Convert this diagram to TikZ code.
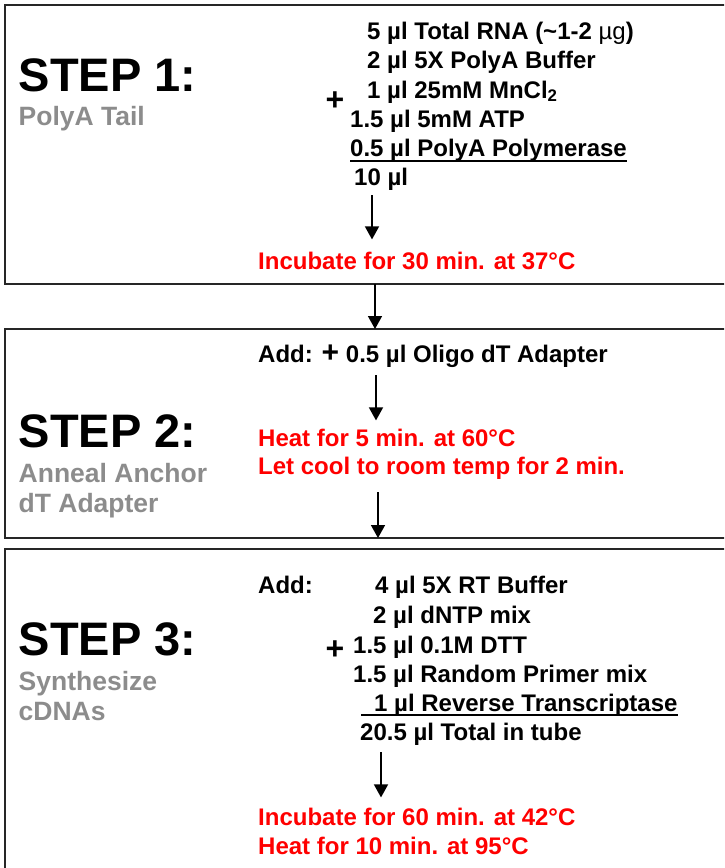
\documentclass[tikz,border=0pt]{standalone}
\usepackage{fontspec}
\setmainfont{Liberation Sans}
\usepackage{xcolor}
\usetikzlibrary{arrows.meta}
\definecolor{subgray}{RGB}{140,140,140}
\definecolor{hotred}{RGB}{255,0,0}

\begin{document}
\begin{tikzpicture}[x=1pt, y=-1pt,
  panel/.style={draw=black!85, line width=2pt, outer sep=0pt, inner sep=0pt,
    anchor=north west, minimum width=760pt},
  txt/.style={anchor=base west, inner sep=0pt, font=\fontsize{24}{28}\selectfont\bfseries},
  stepname/.style={txt, font=\fontsize{47}{50}\selectfont\bfseries},
  subname/.style={txt, text=subgray, font=\fontsize{26.5}{30}\selectfont\bfseries},
  note/.style={txt, text=hotred},
  plus/.style={inner sep=0pt, font=\fontsize{32}{32}\selectfont\bfseries},
  uline/.style={line width=1.6pt},
  flow/.style={-{Triangle[width=14pt,length=13pt]}, line width=1.5pt}]
  \path[use as bounding box, clip] (0,0) rectangle (724,868);

  % the three panels
  \node[panel, minimum height=279pt] (box1) at (5,5) {};
  \node[panel, minimum height=209pt] (box2) at (5,329) {};
  \node[panel, minimum height=340pt] (box3) at (5,549) {};

  % step 1
  \node[stepname] (step1) at (18.5,91) {STEP 1:};
  \node[subname] (sub1) at (18.5,125) {PolyA Tail};
  \node[plus] (plus1) at (335,101) {+};
  \node[txt] (t1a) at (367,39) {5 µl Total RNA (\textasciitilde1-2 {\mdseries µg})};
  \node[txt] (t1b) at (367,68) {2 µl 5X PolyA Buffer};
  \node[txt] (t1c) at (367,98) {1 µl 25mM MnCl\textsubscript{2}};
  \node[txt] (t1d) at (350,127) {1.5 µl 5mM ATP};
  \node[txt] (t1e) at (350,156) {0.5 µl PolyA Polymerase};
  \node[txt] (t1f) at (354,185) {10 µl};
  \node[note] (inc1) at (258,269) {Incubate for 30 min. at 37°C};
  \draw[uline] ([yshift=-5pt]t1e.base west) -- ([yshift=-5pt]t1e.base east);
  \coordinate (x1) at (372,0);
  \draw[flow, shorten <=5pt, shorten >=12pt] (t1f.south -| x1) -- (inc1.north -| x1);

  \coordinate (x12) at (375,0);
  \draw[flow] (box1.south -| x12) -- (box2.north -| x12);

  % step 2
  \node[stepname] (step2) at (18.5,447) {STEP 2:};
  \node[subname] (sub2a) at (18.5,482) {Anneal Anchor};
  \node[subname] (sub2b) at (18.5,512) {dT Adapter};
  \node[txt] (add2) at (258,362) {Add: {\fontsize{30}{30}\selectfont+} 0.5 µl Oligo dT Adapter};
  \node[note] (heat2) at (258,446) {Heat for 5 min. at 60°C};
  \node[note] (cool2) at (258,474) {Let cool to room temp for 2 min.};
  \coordinate (x2) at (376,0);
  \draw[flow, shorten <=8pt, shorten >=8pt] (add2.south -| x2) -- (heat2.north -| x2);
  \coordinate (x23) at (378,0);
  \draw[flow, shorten <=13pt] (cool2.south -| x23) -- (box2.south -| x23);

  % step 3
  \node[stepname] (step3) at (18.5,655) {STEP 3:};
  \node[subname] (sub3a) at (18.5,690) {Synthesize};
  \node[subname] (sub3b) at (18.5,720) {cDNAs};
  \node[txt] (add3) at (258,593) {Add:};
  \node[plus] (plus3) at (335,650) {+};
  \node[txt] (r3a) at (375,593) {4 µl 5X RT Buffer};
  \node[txt] (r3b) at (373,623) {2 µl dNTP mix};
  \node[txt] (r3c) at (353,653) {1.5 µl 0.1M DTT};
  \node[txt] (r3d) at (353,682) {1.5 µl Random Primer mix};
  \node[txt] (r3e) at (374,711) {1 µl Reverse Transcriptase};
  \node[txt] (r3f) at (360,740) {20.5 µl Total in tube};
  \node[note] (inc3) at (258,825) {Incubate for 60 min. at 42°C};
  \node[note] (heat3) at (258,854) {Heat for 10 min. at 95°C};
  \draw[uline] ([shift={(-13pt,-4pt)}]r3e.base west) -- ([yshift=-4pt]r3e.base east);
  \coordinate (x3) at (381,0);
  \draw[flow, shorten <=7pt, shorten >=10pt] (r3f.south -| x3) -- (inc3.north -| x3);
\end{tikzpicture}
\end{document}
